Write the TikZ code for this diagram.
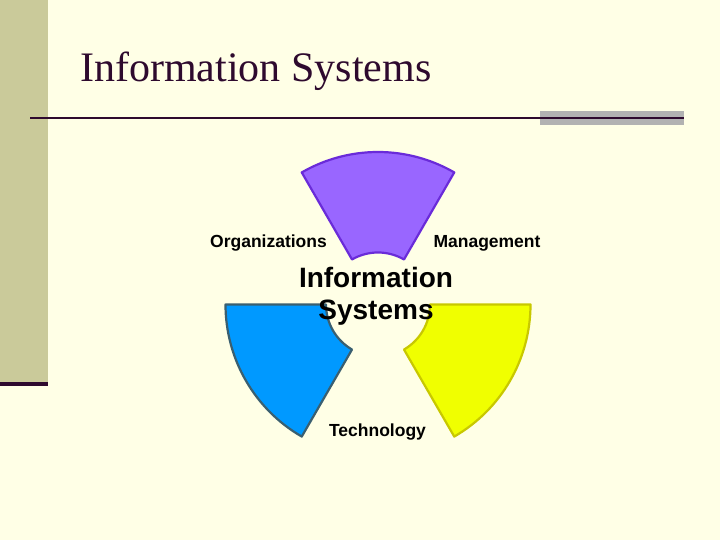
\documentclass[tikz,border=0pt]{standalone}
\usepackage{fontspec}
\setmainfont{Liberation Serif}
\newfontfamily\arialf{Liberation Sans}
\definecolor{bgc}{HTML}{FFFFE6}
\definecolor{barc}{HTML}{CACA9A}
\definecolor{darkp}{HTML}{2E0A2E}
\definecolor{grayb}{HTML}{B2B2B2}
\definecolor{purf}{HTML}{9966FF}
\definecolor{purd}{HTML}{6A2BD9}
\definecolor{bluf}{HTML}{0099FF}
\definecolor{blud}{HTML}{3A5F70}
\definecolor{yelf}{HTML}{F0FF00}
\definecolor{yeld}{HTML}{C8C800}
\tikzset{
  lbl/.style={font=\arialf\bfseries\fontsize{17.5}{21}\selectfont, inner sep=0pt, anchor=base},
  big/.style={font=\arialf\bfseries\fontsize{28}{32}\selectfont, inner sep=0pt, anchor=base},
  sector/.style={line width=2.2pt, line join=round}
}
\begin{document}
\begin{tikzpicture}[x=1pt,y=1pt]
\useasboundingbox (0,0) rectangle (720,540);
\fill[bgc] (0,0) rectangle (720,540);
% left bar
\fill[barc] (0,158) rectangle (48,540);
\fill[darkp] (0,154) rectangle (48,158);
% title
\node[font=\fontsize{42}{50}\selectfont, text=darkp, inner sep=0pt, anchor=base west] (title) at (80,458) {Information Systems};
% rule
\fill[grayb] (540,415) rectangle (684,429);
\draw[darkp, line width=2pt] (30,422) -- (684,422);
% sectors
\coordinate (c) at (378,235.5);
\draw[sector, fill=purf, draw=purd] ([shift={(60:152.5)}]c) arc[start angle=60,end angle=120,radius=152.5] -- ([shift={(120:52)}]c) arc[start angle=120,end angle=60,radius=52] -- cycle;
\draw[sector, fill=bluf, draw=blud] ([shift={(180:152.5)}]c) arc[start angle=180,end angle=240,radius=152.5] -- ([shift={(240:52)}]c) arc[start angle=240,end angle=180,radius=52] -- cycle;
\draw[sector, fill=yelf, draw=yeld] ([shift={(300:152.5)}]c) arc[start angle=300,end angle=360,radius=152.5] -- ([shift={(360:52)}]c) arc[start angle=360,end angle=300,radius=52] -- cycle;
% labels
\node[lbl] (org) at (268.5,292.3) {Organizations};
\node[lbl] (man) at (487,292.3) {Management};
\node[lbl] (tech) at (377.5,103) {Technology};
\node[big] (info) at (376,252) {Information};
\node[big] (sys) at (376,220) {Systems};
\end{tikzpicture}
\end{document}
